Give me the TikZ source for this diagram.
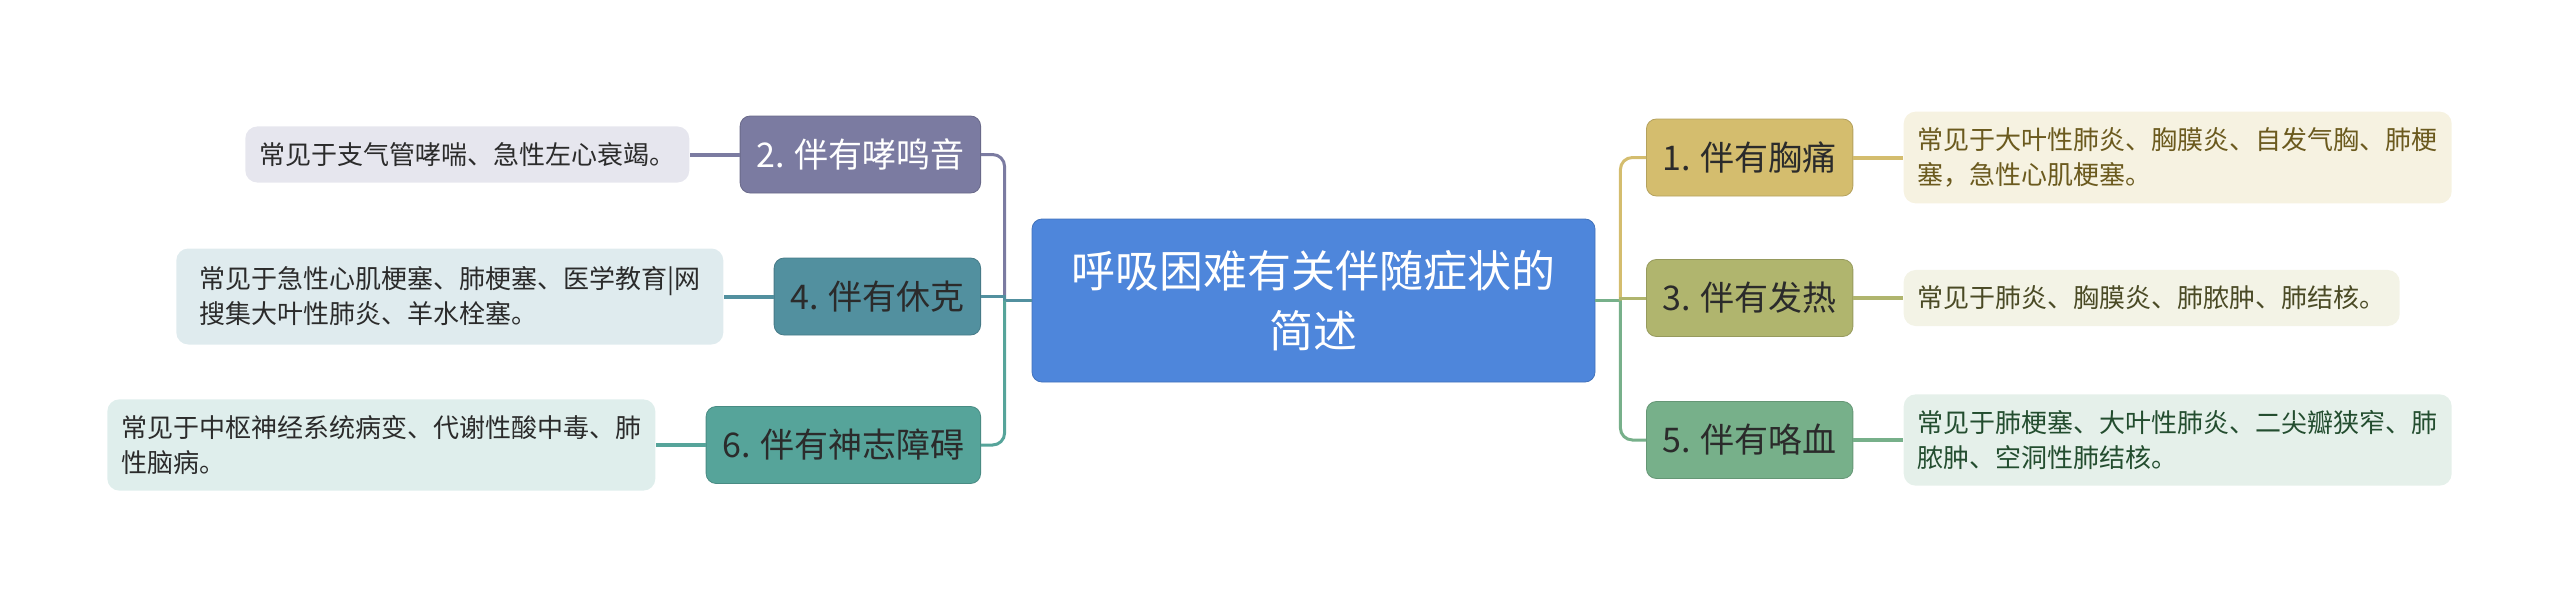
\documentclass[tikz,border=0pt]{standalone}
\usepackage{fontspec}
\setmainfont{Noto Sans CJK SC}
\usetikzlibrary{positioning}
\definecolor{rootblue}{HTML}{4E86DB}
\definecolor{gold}{HTML}{D4BD6E}
\definecolor{goldleaf}{HTML}{F6F2E1}
\definecolor{goldtext}{HTML}{6B5A1E}
\definecolor{olive}{HTML}{B0B56E}
\definecolor{oliveleaf}{HTML}{F3F3E6}
\definecolor{olivetext}{HTML}{4A4A25}
\definecolor{sage}{HTML}{77B08A}
\definecolor{sageleaf}{HTML}{E5F0EA}
\definecolor{sagetext}{HTML}{234D2F}
\definecolor{plum}{HTML}{7B7BA1}
\definecolor{plumleaf}{HTML}{E6E6EE}
\definecolor{petrol}{HTML}{52909F}
\definecolor{petrolleaf}{HTML}{DFEBEE}
\definecolor{jade}{HTML}{56A49A}
\definecolor{jadeleaf}{HTML}{DFEEEC}
\definecolor{ink}{HTML}{2B2B2B}
\tikzset{
  topic/.style={rounded corners=5pt, minimum height=38.5pt, inner xsep=8pt,
    font=\fontsize{17pt}{20pt}\selectfont},
  leaf/.style={rounded corners=6pt, inner xsep=7pt, inner ysep=8pt, align=left,
    font=\fontsize{13pt}{17.5pt}\selectfont},
  link/.style={line width=1.5pt},
  twig/.style={line width=2pt}
}
\begin{document}
\begin{tikzpicture}[x=0.5pt,y=-0.5pt]
\useasboundingbox (0,0) rectangle (2560,605);
\node[fill=rootblue, draw=rootblue!85!black, rounded corners=5pt, minimum width=281.5pt,
  minimum height=81.5pt, align=center, text=white, font=\fontsize{22pt}{30pt}\selectfont]
  (root) at (1313.5,300.5) {呼吸困难有关伴随症状的\\简述};

% right side
\node[topic, fill=gold, draw=gold!85!black, text=ink, anchor=west] (t1) at (1646,157.5) {1. 伴有胸痛};
\node[topic, fill=olive, draw=olive!85!black, text=ink, anchor=west] (t3) at (1646,298) {3. 伴有发热};
\node[topic, fill=sage, draw=sage!85!black, text=ink, anchor=west] (t5) at (1646,440) {5. 伴有咯血};
\node[leaf, fill=goldleaf, text=goldtext, right=25pt of t1] (l1) {常见于大叶性肺炎、胸膜炎、自发气胸、肺梗\\塞，急性心肌梗塞。};
\node[leaf, fill=oliveleaf, text=olivetext, right=25pt of t3] (l3) {常见于肺炎、胸膜炎、肺脓肿、肺结核。};
\node[leaf, fill=sageleaf, text=sagetext, right=25pt of t5] (l5) {常见于肺梗塞、大叶性肺炎、二尖瓣狭窄、肺\\脓肿、空洞性肺结核。};

% left side
\node[topic, fill=plum, draw=plum!85!black, text=white, anchor=east] (t2) at (981,154.5) {2. 伴有哮鸣音};
\node[topic, fill=petrol, draw=petrol!85!black, text=ink, anchor=east] (t4) at (981,296.5) {4. 伴有休克};
\node[topic, fill=jade, draw=jade!85!black, text=ink, anchor=east] (t6) at (981,445) {6. 伴有神志障碍};
\node[leaf, fill=plumleaf, text=ink, left=25pt of t2] (l2) {常见于支气管哮喘、急性左心衰竭。};
\node[leaf, fill=petrolleaf, text=ink, left=25pt of t4, minimum width=273.5pt, minimum height=48pt] (l4) {常见于急性心肌梗塞、肺梗塞、医学教育|网\\搜集大叶性肺炎、羊水栓塞。};
\node[leaf, fill=jadeleaf, text=ink, left=25pt of t6] (l6) {常见于中枢神经系统病变、代谢性酸中毒、肺\\性脑病。};

% connectors
\coordinate (rj) at ([xshift=12.5pt]root.east);
\coordinate (lj) at ([xshift=-13.5pt]root.west);
\draw[link, sage] (root.east) -- (rj);
\draw[link, gold, rounded corners=6pt] (rj) |- (t1.west);
\draw[link, olive] (rj) |- (t3.west);
\draw[link, sage, rounded corners=6pt] (rj) |- (t5.west);
\draw[link, petrol] (root.west) -- (lj);
\draw[link, plum, rounded corners=6pt] (lj) |- (t2.east);
\draw[link, petrol] (lj) |- (t4.east);
\draw[link, jade, rounded corners=6pt] (lj) |- (t6.east);
\draw[twig, gold] (t1.east) -- (l1.west);
\draw[twig, olive] (t3.east) -- (l3.west);
\draw[twig, sage] (t5.east) -- (l5.west);
\draw[twig, plum] (t2.west) -- (l2.east);
\draw[twig, petrol] (t4.west) -- (l4.east);
\draw[twig, jade] (t6.west) -- (l6.east);
\end{tikzpicture}
\end{document}
